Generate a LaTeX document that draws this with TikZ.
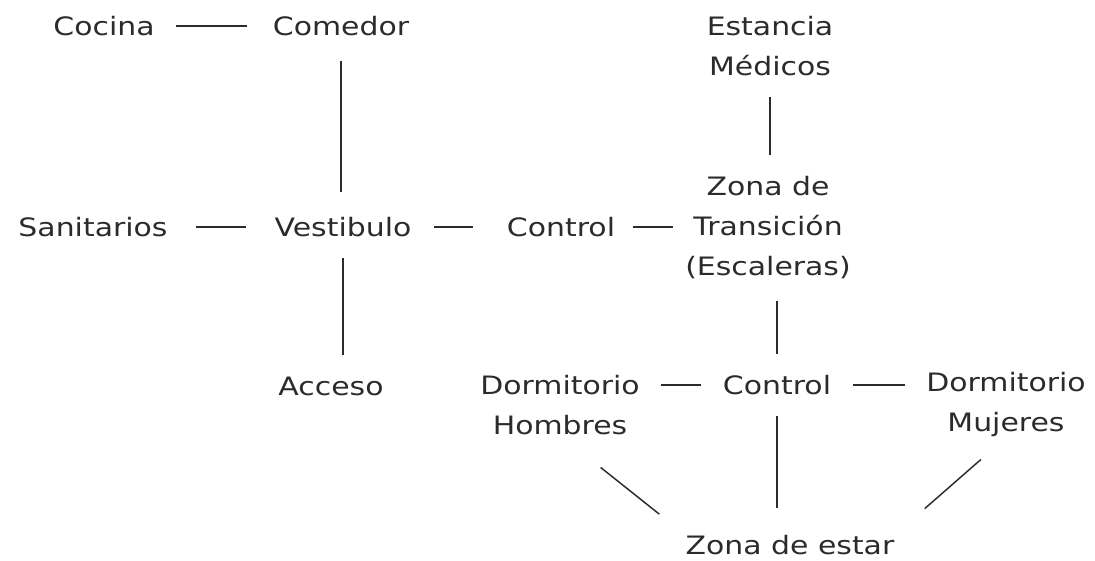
\documentclass[tikz,border=0pt]{standalone}
\usepackage{fontspec}
\setmainfont{DejaVu Sans}[FakeStretch=1.18]
\usepackage{tikz}
\usetikzlibrary{calc}
\definecolor{ink}{HTML}{2B2B2B}
\tikzset{room/.style={inner sep=0pt, text=ink, align=center, font=\fontsize{19}{30}\selectfont}}
\tikzset{link/.style={draw=ink, line width=1.1pt, shorten <=16pt, shorten >=16pt}}

\begin{document}
\begin{tikzpicture}[x=0.75pt, y=-0.75pt]
		\useasboundingbox (0,0) rectangle (1095,560);
		\node[room] (coc) at (104,26) {Cocina};
		\node[room] (com) at (341,26) {Comedor};
		\node[room] (est) at (770,46) {Estancia\\Médicos};
		\node[room] (san) at (93,227) {Sanitarios};
		\node[room] (ves) at (343,227) {Vestibulo};
		\node[room] (ctl1) at (561,227) {Control};
		\node[room] (zt) at (768,228) {Zona de\\Transición\\(Escaleras)};
		\node[room] (acc) at (331,386) {Acceso};
		\node[room] (dh) at (560,405) {Dormitorio\\Hombres};
		\node[room] (ctl2) at (777,385) {Control};
		\node[room] (dm) at (1006,405) {Dormitorio\\Mujeres};
		\node[room] (zona) at (790,545) {Zona de estar};
		
		
		\draw[link, shorten >=19pt] (coc) -- (com);
		\draw[link, shorten <=19pt, shorten >=19pt] (com.south) -- (com.south |- ves.north);
		\draw[link] (est.south) -- (est.south |- zt.north);
		\draw[link, shorten <=21pt, shorten >=21pt] (san) -- (ves);
		\draw[link, shorten <=17pt, shorten >=25pt] (ves) -- (ves -| ctl1.west);
		\draw[link, shorten <=13pt, shorten >=9pt] (ctl1) -- (ctl1 -| zt.west);
		\draw[link] (ves.south) -- (ves.south |- acc.north);
		\draw[link] (ctl2.north |- zt.south) -- (ctl2.north);
		\draw[link] (ctl2) -- (ctl2 -| dh.east);
		\draw[link] (ctl2) -- (ctl2 -| dm.west);
		\draw[link, shorten >=20pt] (ctl2.south) -- (ctl2.south |- zona.north);
		\draw[link, shorten <=39pt, shorten >=25pt] (dh.south) -- (zona.north west);
		\draw[link, shorten <=25pt, shorten >=30pt] (dm.south) -- (zona.north east);
\end{tikzpicture}
\end{document}
